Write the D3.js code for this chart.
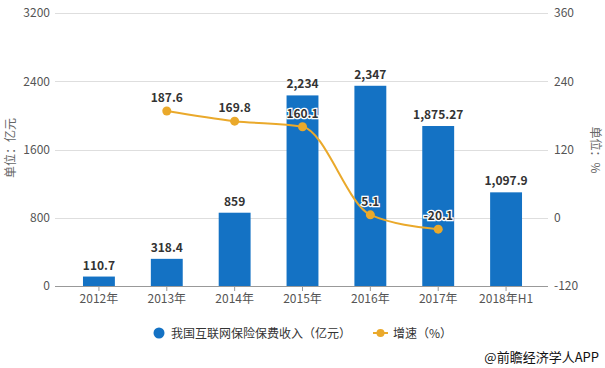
<!DOCTYPE html>
<html><head><meta charset="utf-8">
<script src="https://cdn.jsdelivr.net/npm/d3@7"></script>
<style>
html,body{margin:0;padding:0;background:#fff;}
svg{display:block;font-family:"Noto Sans CJK SC","Microsoft YaHei",sans-serif;}
</style></head>
<body><svg id="c" width="605" height="368"></svg>
<script>
const categories = ["2012年","2013年","2014年","2015年","2016年","2017年","2018年H1"];
const revenue = [110.7, 318.4, 859, 2234, 2347, 1875.27, 1097.9];
const revenueLabels = ["110.7","318.4","859","2,234","2,347","1,875.27","1,097.9"];
const growth = [null, 187.6, 169.8, 160.1, 5.1, -20.1, null];
const leftTicks = [0, 800, 1600, 2400, 3200];
const rightTicks = [-120, 0, 120, 240, 360];

const svg = d3.select("#c");
const plotTop = 13, plotBottom = 286, gridL = 55, gridR = 548;
const barColor = "#1472c4", lineColor = "#eaa92b", textColor = "#555";

const x = d3.scaleBand().domain(categories).range([65, 540]).paddingInner(0.53).paddingOuter(0.265);
const yL = d3.scaleLinear().domain([0, 3200]).range([plotBottom, plotTop]);
const yR = d3.scaleLinear().domain([-120, 360]).range([plotBottom, plotTop]);

// grid
svg.append("g").selectAll("line").data(leftTicks.slice(1)).join("line")
  .attr("x1", gridL).attr("x2", gridR)
  .attr("y1", d => Math.round(yL(d)) + 0.5).attr("y2", d => Math.round(yL(d)) + 0.5)
  .attr("stroke", "#dedede").attr("stroke-width", 1);

// left axis labels
const la = svg.append("g").attr("transform", `translate(${gridL},0)`)
  .call(d3.axisLeft(yL).tickValues(leftTicks).tickSize(0).tickPadding(5).tickFormat(d => String(d)));
la.select(".domain").remove();
la.selectAll("text").attr("fill", textColor).style("font-size","12px").style("font-family","'Noto Sans CJK SC',sans-serif");

// right axis labels
const ra = svg.append("g").attr("transform", `translate(${gridR},0)`)
  .call(d3.axisRight(yR).tickValues(rightTicks).tickSize(0).tickPadding(6).tickFormat(d => String(d)));
ra.select(".domain").remove();
ra.selectAll("text").attr("fill", textColor).style("font-size","12px").style("font-family","'Noto Sans CJK SC',sans-serif");

// bars
svg.append("g").selectAll("rect").data(categories).join("rect")
  .attr("x", d => x(d)).attr("width", x.bandwidth())
  .attr("y", (d,i) => yL(revenue[i])).attr("height", (d,i) => plotBottom - yL(revenue[i]))
  .attr("fill", barColor);

// bottom axis
const ba = svg.append("g").attr("transform", `translate(0,${plotBottom})`)
  .call(d3.axisBottom(x).tickSize(5).tickPadding(3));
ba.select(".domain").attr("d", `M${gridL},0.5H${gridR}`).attr("stroke", "#999");
ba.selectAll(".tick line").attr("stroke", "#999");
ba.selectAll("text").attr("fill", textColor).style("font-size","12px").style("font-family","'Noto Sans CJK SC',sans-serif");

// bar labels
svg.append("g").selectAll("text").data(categories).join("text")
  .attr("x", d => x(d) + x.bandwidth()/2)
  .attr("y", (d,i) => yL(revenue[i]) - 7)
  .attr("text-anchor","middle").attr("fill","#333")
  .style("font-size","12px").style("font-weight","bold")
  .text((d,i) => revenueLabels[i]);

// line
const pts = categories.map((c,i) => ({c, v: growth[i]})).filter(p => p.v !== null);
const cx = c => x(c) + x.bandwidth()/2;
svg.append("path").datum(pts)
  .attr("d", d3.line().x(p => cx(p.c)).y(p => yR(p.v)).curve(d3.curveMonotoneX))
  .attr("fill","none").attr("stroke", lineColor).attr("stroke-width", 2);
svg.append("g").selectAll("circle").data(pts).join("circle")
  .attr("cx", p => cx(p.c)).attr("cy", p => yR(p.v)).attr("r", 4.5)
  .attr("fill", lineColor);
svg.append("g").selectAll("text").data(pts).join("text")
  .attr("x", p => cx(p.c)).attr("y", p => yR(p.v) - 9)
  .attr("text-anchor","middle").attr("fill","#333")
  .attr("stroke","#fff").attr("stroke-width",2.5).attr("paint-order","stroke")
  .style("font-size","12px").style("font-weight","bold")
  .text(p => p.v.toFixed(1));

// axis titles
svg.append("text").attr("transform","translate(15,148) rotate(-90)")
  .attr("text-anchor","middle").attr("fill","#666").style("font-size","12px").text("单位：亿元");
svg.append("text").attr("transform","translate(591,150) rotate(90)")
  .attr("text-anchor","middle").attr("fill","#666").style("font-size","12px").text("单位：%");

// legend
const lg = svg.append("g");
lg.append("circle").attr("cx",159).attr("cy",333).attr("r",5.5).attr("fill",barColor);
lg.append("text").attr("x",171).attr("y",337.5).attr("fill","#333").style("font-size","12px").text("我国互联网保险保费收入（亿元）");
lg.append("line").attr("x1",373).attr("x2",388).attr("y1",333).attr("y2",333).attr("stroke",lineColor).attr("stroke-width",2);
lg.append("circle").attr("cx",380.5).attr("cy",333).attr("r",4).attr("fill",lineColor);
lg.append("text").attr("x",393).attr("y",337.5).attr("fill","#333").style("font-size","12px").text("增速（%）");

// source
svg.append("text").attr("x",599).attr("y",362).attr("text-anchor","end").attr("fill","#111")
  .style("font-size","13px").text("@前瞻经济学人APP");
</script></body></html>
